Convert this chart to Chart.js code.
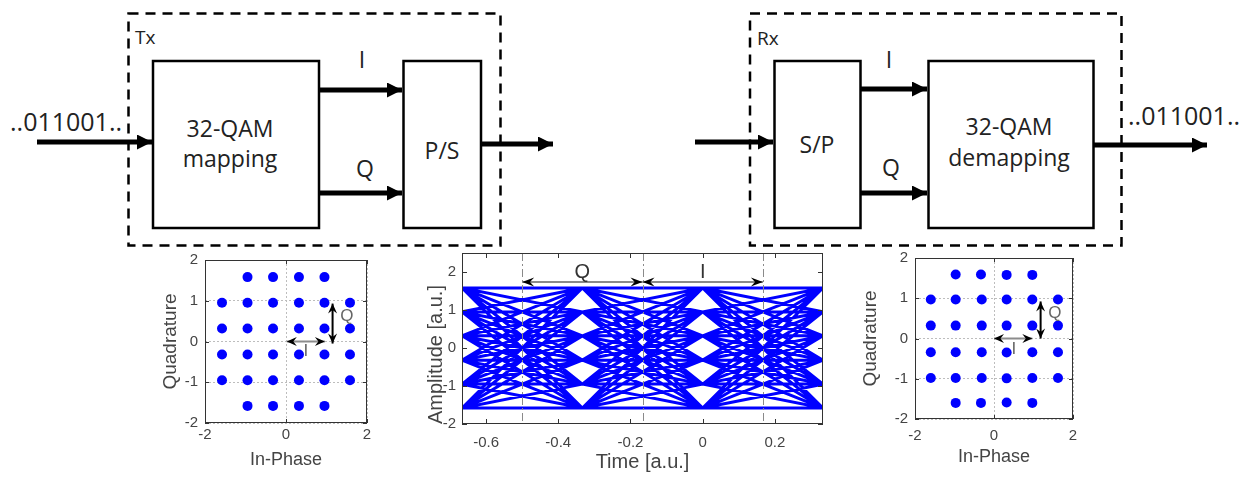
<!DOCTYPE html>
<html>
<head>
<meta charset="utf-8">
<script src="https://cdn.jsdelivr.net/npm/chart.js@4.4.0/dist/chart.umd.min.js"></script>
<style>
  html, body { margin: 0; padding: 0; background: #fff; }
  #fig { position: relative; width: 1248px; height: 479px; overflow: hidden; }
  #diagram { position: absolute; left: 0; top: 0; }
  #diagram text { font-family: "Open Sans", Lato, sans-serif; fill: #222; }
  canvas { position: absolute; }
</style>
</head>
<body>
<div id="fig">
  <svg id="diagram" width="1248" height="250" xmlns="http://www.w3.org/2000/svg">
    <defs>
      <marker id="head" viewBox="0 0 10 10" refX="10" refY="5" markerWidth="3.4" markerHeight="3" markerUnits="strokeWidth" orient="auto">
        <path d="M0,0 L10,5 L0,10 z" fill="#000"/>
      </marker>
    </defs>
    <!-- Tx -->
    <rect x="128.5" y="13.5" width="372" height="232" fill="none" stroke="#000" stroke-width="2.5" stroke-dasharray="10 7"/>
    <text x="135" y="44" font-size="19">Tx</text>
    <rect x="153" y="61" width="166" height="167" fill="none" stroke="#000" stroke-width="2.5"/>
    <text x="230" y="137" font-size="23" text-anchor="middle">32-QAM</text>
    <text x="230" y="167" font-size="23" text-anchor="middle">mapping</text>
    <rect x="403.5" y="61" width="77.5" height="167" fill="none" stroke="#000" stroke-width="2.5"/>
    <text x="442" y="159" font-size="23" text-anchor="middle">P/S</text>
    <line x1="37" y1="142" x2="152" y2="142" stroke="#000" stroke-width="5" marker-end="url(#head)"/>
    <line x1="319" y1="90" x2="402" y2="90" stroke="#000" stroke-width="5" marker-end="url(#head)"/>
    <line x1="319" y1="193" x2="402" y2="193" stroke="#000" stroke-width="5" marker-end="url(#head)"/>
    <line x1="481" y1="144" x2="553" y2="144" stroke="#000" stroke-width="5" marker-end="url(#head)"/>
    <text x="362" y="68" font-size="23" text-anchor="middle">I</text>
    <text x="365" y="177" font-size="23" text-anchor="middle">Q</text>
    <text x="10" y="131" font-size="25">..011001..</text>
    <!-- Rx -->
    <rect x="750" y="13.5" width="371.5" height="232" fill="none" stroke="#000" stroke-width="2.5" stroke-dasharray="10 7"/>
    <text x="757" y="45" font-size="19">Rx</text>
    <rect x="774.5" y="61" width="86" height="167" fill="none" stroke="#000" stroke-width="2.5"/>
    <text x="817" y="153" font-size="23" text-anchor="middle">S/P</text>
    <rect x="928.5" y="61" width="165" height="167" fill="none" stroke="#000" stroke-width="2.5"/>
    <text x="1009" y="135" font-size="23" text-anchor="middle">32-QAM</text>
    <text x="1009" y="166" font-size="23" text-anchor="middle">demapping</text>
    <line x1="695" y1="142" x2="773" y2="142" stroke="#000" stroke-width="5" marker-end="url(#head)"/>
    <line x1="860" y1="89" x2="927" y2="89" stroke="#000" stroke-width="5" marker-end="url(#head)"/>
    <line x1="860" y1="193" x2="927" y2="193" stroke="#000" stroke-width="5" marker-end="url(#head)"/>
    <line x1="1093" y1="145" x2="1207" y2="145" stroke="#000" stroke-width="5" marker-end="url(#head)"/>
    <text x="889" y="68" font-size="23" text-anchor="middle">I</text>
    <text x="891" y="176" font-size="23" text-anchor="middle">Q</text>
    <text x="1128" y="125" font-size="25">..011001..</text>
  </svg>
  <canvas id="txConst" width="230" height="237" style="left:159px;top:242px"></canvas>
  <canvas id="eye" width="418" height="242" style="left:424px;top:237px"></canvas>
  <canvas id="rxConst" width="230" height="239" style="left:859px;top:240px"></canvas>
</div>
<script>
// --- Tx constellation (32-QAM cross) ---
var txI = [-0.95, -0.32, 0.32, 0.95,
  -1.58, -0.95, -0.32, 0.32, 0.95, 1.58,
  -1.58, -0.95, -0.32, 0.32, 0.95, 1.58,
  -1.58, -0.95, -0.32, 0.32, 0.95, 1.58,
  -1.58, -0.95, -0.32, 0.32, 0.95, 1.58,
  -0.95, -0.32, 0.32, 0.95];
var txQ = [1.58, 1.58, 1.58, 1.58,
  0.95, 0.95, 0.95, 0.95, 0.95, 0.95,
  0.32, 0.32, 0.32, 0.32, 0.32, 0.32,
  -0.32, -0.32, -0.32, -0.32, -0.32, -0.32,
  -0.95, -0.95, -0.95, -0.95, -0.95, -0.95,
  -1.58, -1.58, -1.58, -1.58];

// --- Rx constellation ---
var rxI = [-0.97, -0.33, 0.32, 0.97,
  -1.60, -0.97, -0.31, 0.32, 0.97, 1.62,
  -1.60, -0.97, -0.31, 0.32, 0.97, 1.62,
  -1.60, -0.97, -0.31, 0.32, 0.97, 1.62,
  -1.60, -0.97, -0.31, 0.32, 0.97, 1.62,
  -0.97, -0.33, 0.32, 0.97];
var rxQ = [1.59, 1.59, 1.58, 1.58,
  0.97, 0.97, 0.97, 0.97, 0.97, 0.97,
  0.32, 0.32, 0.32, 0.32, 0.32, 0.32,
  -0.34, -0.34, -0.34, -0.35, -0.34, -0.34,
  -0.98, -0.98, -0.98, -0.99, -0.98, -0.98,
  -1.60, -1.60, -1.59, -1.60];

var constXTicks = [-2, 0, 2];
var constYTicks = [-2, -1, 0, 1, 2];

// --- eye diagram: symbol instants and amplitude levels ---
var eyeTimes = [-0.6667, -0.3333, 0, 0.3333];
var eyeLevels = [-1.58, -0.95, -0.32, 0.32, 0.95, 1.58];
var eyeXTicks = [-0.6, -0.4, -0.2, 0, 0.2];
var eyeYTicks = [-2, -1, 0, 1, 2];
var eyeMarkers = [-0.5, -0.1667, 0.1667];   // dashed lines / arrow ends
var eyeArrowY = 1.74;
var eyeLabelY = 2.0;

// annotation arrows on constellations (data units)
var txArrowI = [[0.02, 0], [0.96, 0]];
var txArrowQ = [[1.15, -0.05], [1.15, 0.93]];
var txLabelI = [0.49, -0.23];
var txLabelQ = [1.5, 0.62];
var rxArrowI = [[0.0, 0], [0.97, 0]];
var rxArrowQ = [[1.18, 0.0], [1.18, 0.92]];
var rxLabelI = [0.5, -0.26];
var rxLabelQ = [1.54, 0.62];

var AXIS_FONT = 'Liberation Sans';
var AXIS_COLOR = '#444';

function arrowHead(ctx, x, y, ang, len, wid) {
  ctx.save();
  ctx.translate(x, y);
  ctx.rotate(ang);
  ctx.beginPath();
  ctx.moveTo(0, 0);
  ctx.lineTo(-len, -wid / 2);
  ctx.lineTo(-len * 0.65, 0);
  ctx.lineTo(-len, wid / 2);
  ctx.closePath();
  ctx.fill();
  ctx.restore();
}

function doubleArrow(chart, p1, p2, lineColor, lineWidth, len, wid) {
  var ctx = chart.ctx, xs = chart.scales.x, ys = chart.scales.y;
  var x1 = xs.getPixelForValue(p1[0]), y1 = ys.getPixelForValue(p1[1]);
  var x2 = xs.getPixelForValue(p2[0]), y2 = ys.getPixelForValue(p2[1]);
  var ang = Math.atan2(y2 - y1, x2 - x1);
  ctx.save();
  ctx.strokeStyle = lineColor;
  ctx.lineWidth = lineWidth;
  ctx.beginPath();
  ctx.moveTo(x1, y1);
  ctx.lineTo(x2, y2);
  ctx.stroke();
  ctx.fillStyle = '#000';
  arrowHead(ctx, x2, y2, ang, len, wid);
  arrowHead(ctx, x1, y1, ang + Math.PI, len, wid);
  ctx.restore();
}

function label(chart, p, text, size, color) {
  var ctx = chart.ctx;
  ctx.save();
  ctx.font = size + 'px ' + AXIS_FONT;
  ctx.fillStyle = color;
  ctx.textAlign = 'center';
  ctx.textBaseline = 'middle';
  ctx.fillText(text, chart.scales.x.getPixelForValue(p[0]), chart.scales.y.getPixelForValue(p[1]));
  ctx.restore();
}

// box frame with inward tick marks (MATLAB look)
function framePlugin(tickLen) {
  return {
    id: 'frame',
    afterDraw: function(chart) {
      var a = chart.chartArea, ctx = chart.ctx;
      var xs = chart.scales.x, ys = chart.scales.y;
      ctx.save();
      ctx.strokeStyle = '#333';
      ctx.lineWidth = 1;
      ctx.strokeRect(Math.round(a.left) + 0.5, Math.round(a.top) + 0.5,
        Math.round(a.right - a.left) - 1, Math.round(a.bottom - a.top) - 1);
      ctx.beginPath();
      xs.ticks.forEach(function(t) {
        var px = Math.round(xs.getPixelForValue(t.value)) + 0.5;
        ctx.moveTo(px, a.bottom); ctx.lineTo(px, a.bottom - tickLen);
        ctx.moveTo(px, a.top); ctx.lineTo(px, a.top + tickLen);
      });
      ys.ticks.forEach(function(t) {
        var py = Math.round(ys.getPixelForValue(t.value)) + 0.5;
        ctx.moveTo(a.left, py); ctx.lineTo(a.left + tickLen, py);
        ctx.moveTo(a.right, py); ctx.lineTo(a.right - tickLen, py);
      });
      ctx.stroke();
      ctx.restore();
    }
  };
}

function fixedTicks(list) {
  return function(scale) {
    scale.ticks = list.map(function(v) { return { value: v }; });
  };
}

function renderConstellation(canvasId, iVals, qVals, o) {
  var pts = iVals.map(function(v, k) { return { x: v, y: qVals[k] }; });
  return new Chart(document.getElementById(canvasId), {
    type: 'scatter',
    data: {
      datasets: [{
        data: pts,
        pointRadius: 5,
        pointHoverRadius: 5,
        backgroundColor: '#0000ff',
        borderWidth: 0
      }]
    },
    options: {
      responsive: false,
      animation: false,
      devicePixelRatio: 1,
      layout: { padding: { left: 0, top: 18, right: o.padRight, bottom: o.padBottom } },
      plugins: { legend: { display: false }, tooltip: { enabled: false } },
      scales: {
        x: {
          type: 'linear', min: -2, max: 2,
          afterBuildTicks: fixedTicks(constXTicks),
          afterFit: function(s) { s.height = o.xHeight; },
          ticks: { padding: o.xPad, color: AXIS_COLOR, font: { family: AXIS_FONT, size: 15 },
            callback: function(v) { return String(v); } },
          grid: { color: '#bdbdbd', drawTicks: false },
          border: { display: false, dash: [2, 2] },
          title: { display: true, text: 'In-Phase', color: AXIS_COLOR, padding: 0,
            font: { family: AXIS_FONT, size: 18 } }
        },
        y: {
          type: 'linear', min: -2, max: 2,
          afterBuildTicks: fixedTicks(constYTicks),
          afterFit: function(s) { s.width = o.yWidth; },
          ticks: { padding: 7, color: AXIS_COLOR, font: { family: AXIS_FONT, size: 15 },
            callback: function(v) { return String(v); } },
          grid: { color: '#bdbdbd', drawTicks: false },
          border: { display: false, dash: [2, 2] },
          title: { display: true, text: 'Quadrature', color: AXIS_COLOR, padding: 0,
            font: { family: AXIS_FONT, size: 19 } }
        }
      }
    },
    plugins: [framePlugin(4), {
      id: 'iqArrows',
      afterDatasetsDraw: function(chart) {
        doubleArrow(chart, o.arrowI[0], o.arrowI[1], '#8c8c8c', 2, 10, 9);
        doubleArrow(chart, o.arrowQ[0], o.arrowQ[1], '#000', 2, 10, 9);
        label(chart, o.labelI, 'I', 17, '#666');
        label(chart, o.labelQ, 'Q', 17, '#666');
      }
    }]
  });
}

function renderEye(canvasId) {
  // each level at one symbol instant joined to each level at the next instant
  var pts = [];
  for (var k = 0; k < eyeTimes.length - 1; k++) {
    eyeLevels.forEach(function(a) {
      eyeLevels.forEach(function(b) {
        pts.push({ x: eyeTimes[k], y: a });
        pts.push({ x: eyeTimes[k + 1], y: b });
        pts.push({ x: eyeTimes[k + 1], y: null });
      });
    });
  }
  return new Chart(document.getElementById(canvasId), {
    type: 'line',
    data: {
      datasets: [{
        data: pts,
        borderColor: '#0000ff',
        borderWidth: 3,
        pointRadius: 0,
        spanGaps: false,
        tension: 0
      }]
    },
    options: {
      responsive: false,
      animation: false,
      devicePixelRatio: 1,
      layout: { padding: { left: 0, top: 16, right: 19, bottom: 5 } },
      plugins: { legend: { display: false }, tooltip: { enabled: false } },
      scales: {
        x: {
          type: 'linear', min: -0.6667, max: 0.3333,
          afterBuildTicks: fixedTicks(eyeXTicks),
          afterFit: function(s) { s.height = 50; },
          ticks: { padding: 10, color: AXIS_COLOR, font: { family: AXIS_FONT, size: 15 },
            callback: function(v) { return String(v); } },
          grid: { display: false, drawTicks: false },
          border: { display: false },
          title: { display: true, text: 'Time [a.u.]', color: AXIS_COLOR, padding: 0,
            font: { family: AXIS_FONT, size: 20 } }
        },
        y: {
          type: 'linear', min: -2, max: 2.5,
          afterBuildTicks: fixedTicks(eyeYTicks),
          afterFit: function(s) { s.width = 38; },
          ticks: { padding: 6, color: AXIS_COLOR, font: { family: AXIS_FONT, size: 15 },
            callback: function(v) { return String(v); } },
          grid: { display: false, drawTicks: false },
          border: { display: false },
          title: { display: true, text: 'Amplitude [a.u.]', align: 'start', color: AXIS_COLOR, padding: 0,
            font: { family: AXIS_FONT, size: 20 } }
        }
      }
    },
    plugins: [framePlugin(5), {
      id: 'eyeMarks',
      afterDatasetsDraw: function(chart) {
        var ctx = chart.ctx, a = chart.chartArea, xs = chart.scales.x;
        ctx.save();
        ctx.strokeStyle = '#8a8a8a';
        ctx.lineWidth = 1;
        ctx.setLineDash([8, 3, 2, 3]);
        eyeMarkers.forEach(function(m) {
          var px = Math.round(xs.getPixelForValue(m)) + 0.5;
          ctx.beginPath();
          ctx.moveTo(px, a.top);
          ctx.lineTo(px, a.bottom);
          ctx.stroke();
        });
        ctx.restore();
        doubleArrow(chart, [eyeMarkers[0], eyeArrowY], [eyeMarkers[1], eyeArrowY], '#8a8a8a', 2, 12, 9);
        doubleArrow(chart, [eyeMarkers[1], eyeArrowY], [eyeMarkers[2], eyeArrowY], '#8a8a8a', 2, 12, 9);
        label(chart, [(eyeMarkers[0] + eyeMarkers[1]) / 2, eyeLabelY], 'Q', 20, '#333');
        label(chart, [(eyeMarkers[1] + eyeMarkers[2]) / 2, eyeLabelY], 'I', 20, '#333');
      }
    }]
  });
}

renderConstellation('txConst', txI, txQ, {
  padRight: 22, padBottom: 8, xHeight: 48, xPad: 3, yWidth: 46,
  arrowI: txArrowI, arrowQ: txArrowQ, labelI: txLabelI, labelQ: txLabelQ
});
renderEye('eye');
renderConstellation('rxConst', rxI, rxQ, {
  padRight: 16, padBottom: 11, xHeight: 49, xPad: 8, yWidth: 56,
  arrowI: rxArrowI, arrowQ: rxArrowQ, labelI: rxLabelI, labelQ: rxLabelQ
});
</script>
</body>
</html>
